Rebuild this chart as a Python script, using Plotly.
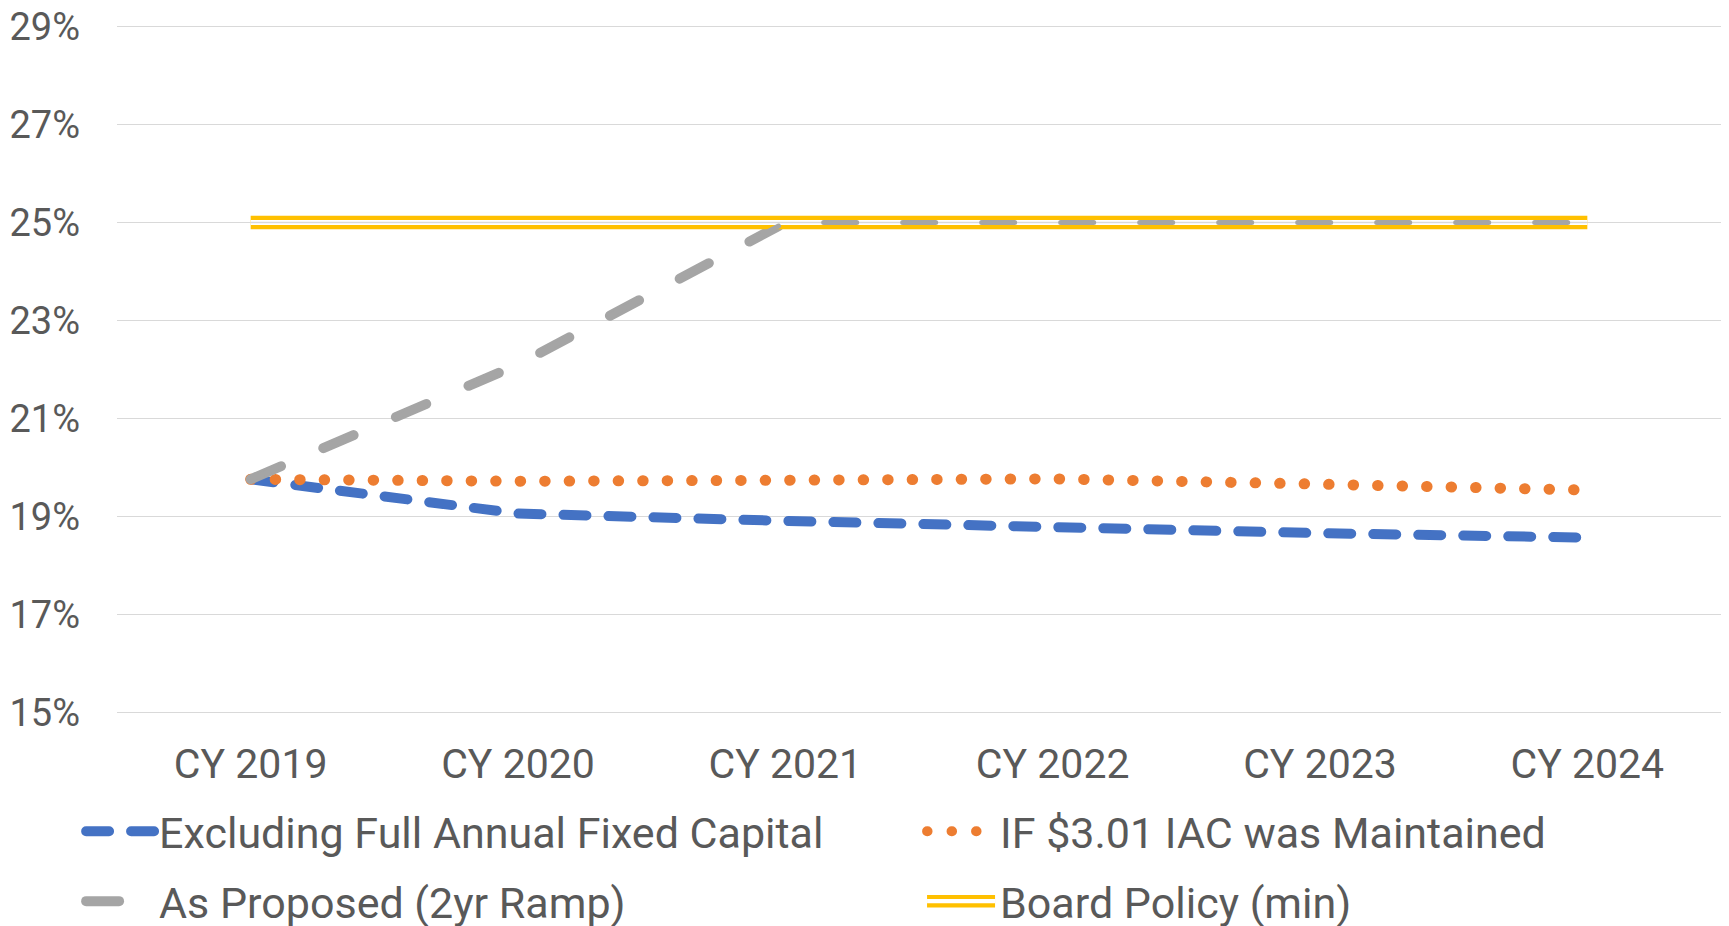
import plotly.graph_objects as go

years = ["CY 2019", "CY 2020", "CY 2021", "CY 2022", "CY 2023", "CY 2024"]
excluding_fixed = [19.76, 19.06, 18.91, 18.76, 18.66, 18.57]
iac_maintained = [19.76, 19.72, 19.74, 19.77, 19.66, 19.54]
as_proposed = [19.76, 22.10, 25.00, 25.00, 25.00, 25.00]
board_policy = [25.00, 25.00, 25.00, 25.00, 25.00, 25.00]
y_ticks = [15, 17, 19, 21, 23, 25, 27, 29]
y_labels = ["15%", "17%", "19%", "21%", "23%", "25%", "27%", "29%"]

BLUE = "#4472C4"
ORANGE = "#ED7D31"
GRAY = "#A5A5A5"
GOLD = "#FFC000"
GRID = "#D9D9D9"
TXT = "#595959"

fig = go.Figure()

# one legend per entry so each sits exactly in its row/column
fig.add_trace(go.Scatter(x=years, y=excluding_fixed, mode="lines",
                         name="Excluding Full Annual Fixed Capital",
                         line=dict(color=BLUE, width=10, dash="23px,22px"),
                         legend="legend2"))
fig.add_trace(go.Scatter(x=years, y=iac_maintained, mode="lines",
                         name="IF $3.01 IAC was Maintained",
                         line=dict(color=ORANGE, width=11, dash="0.5px,24px"),
                         legend="legend3"))
fig.add_trace(go.Scatter(x=years, y=as_proposed, mode="lines",
                         name="As Proposed (2yr Ramp)",
                         line=dict(color=GRAY, width=10, dash="33px,46px"),
                         legend="legend4"))
# double line for the board policy: thick gold, white gap, grid and gray dash shown through it
fig.add_trace(go.Scatter(x=years, y=board_policy, mode="lines",
                         name="Board Policy (min)",
                         line=dict(color=GOLD, width=13.3),
                         legend="legend"))
fig.add_trace(go.Scatter(x=years, y=board_policy, mode="lines", showlegend=False,
                         hoverinfo="skip", line=dict(color="white", width=5)))
fig.add_trace(go.Scatter(x=years, y=board_policy, mode="lines", showlegend=False,
                         hoverinfo="skip", line=dict(color=GRID, width=1.3)))
fig.add_trace(go.Scatter(x=years, y=as_proposed, mode="lines", showlegend=False,
                         hoverinfo="skip", line=dict(color=GRAY, width=5, dash="33px,46px")))

leg = dict(orientation="h", xanchor="left", yanchor="middle",
           font=dict(family="Roboto", size=43, color=TXT),
           bgcolor="rgba(0,0,0,0)", itemwidth=68)

fig.update_layout(
    width=1729, height=926,
    margin=dict(l=117, r=8, t=24.5, b=211.5, autoexpand=False),
    paper_bgcolor="white", plot_bgcolor="white",
    font=dict(family="Roboto", size=40, color=TXT),
    showlegend=True,
    legend2=dict(leg, x=-0.0224, y=-0.1703),
    legend3=dict(leg, x=0.5019, y=-0.1703),
    legend4=dict(leg, x=-0.0224, y=-0.2717),
    legend=dict(leg, x=0.5019, y=-0.2717),
    xaxis=dict(type="category", range=[-0.5, 5.5], showgrid=False, zeroline=False,
               showline=False, ticks="", ticklabelstandoff=22,
               tickfont=dict(family="Roboto", size=41, color=TXT)),
    yaxis=dict(range=[14.97, 29.03], tickmode="array", tickvals=y_ticks, ticktext=y_labels,
               showgrid=True, gridcolor=GRID, gridwidth=1.3, zeroline=False,
               showline=False, ticks="", ticklabelstandoff=36,
               tickfont=dict(family="Roboto", size=38, color=TXT)),
)

# round caps on the dashed/dotted series, and a white gap in the board policy legend line
post = """
document.body.style.margin = '0';
var gd = document.getElementById('{plot_id}');
var skip = ['255, 192, 0', '255, 255, 255', '217, 217, 217'];
function fixLines() {
  document.querySelectorAll('path.js-line').forEach(function(p){
    var s = p.style.stroke || p.getAttribute('stroke') || '';
    var keep = skip.some(function(c){ return s.indexOf(c) >= 0; });
    if (!keep) { p.style.strokeLinecap = 'round'; }
  });
  document.querySelectorAll('path.gap-line').forEach(function(g){ g.remove(); });
  document.querySelectorAll('text.legendtext').forEach(function(tx){
    if (tx.textContent.indexOf('Board') !== 0) return;
    var item = tx.parentNode;
    while (item && !(item.classList && item.classList.contains('traces'))) item = item.parentNode;
    if (!item) return;
    var p = item.querySelector('.legendlines path');
    if (!p) return;
    p.style.strokeWidth = '12.5px';
    var c = p.cloneNode();
    c.setAttribute('class', 'gap-line');
    c.style.stroke = 'white';
    c.style.strokeWidth = '4.3px';
    c.style.strokeDasharray = '';
    p.parentNode.parentNode.appendChild(c);
  });
}
fixLines();
[0, 30, 100, 300, 800].forEach(function(t){ setTimeout(fixLines, t); });
gd.on('plotly_afterplot', function(){ setTimeout(fixLines, 0); });
"""

fig.write_html("out.html", post_script=post, config={"displayModeBar": False})
